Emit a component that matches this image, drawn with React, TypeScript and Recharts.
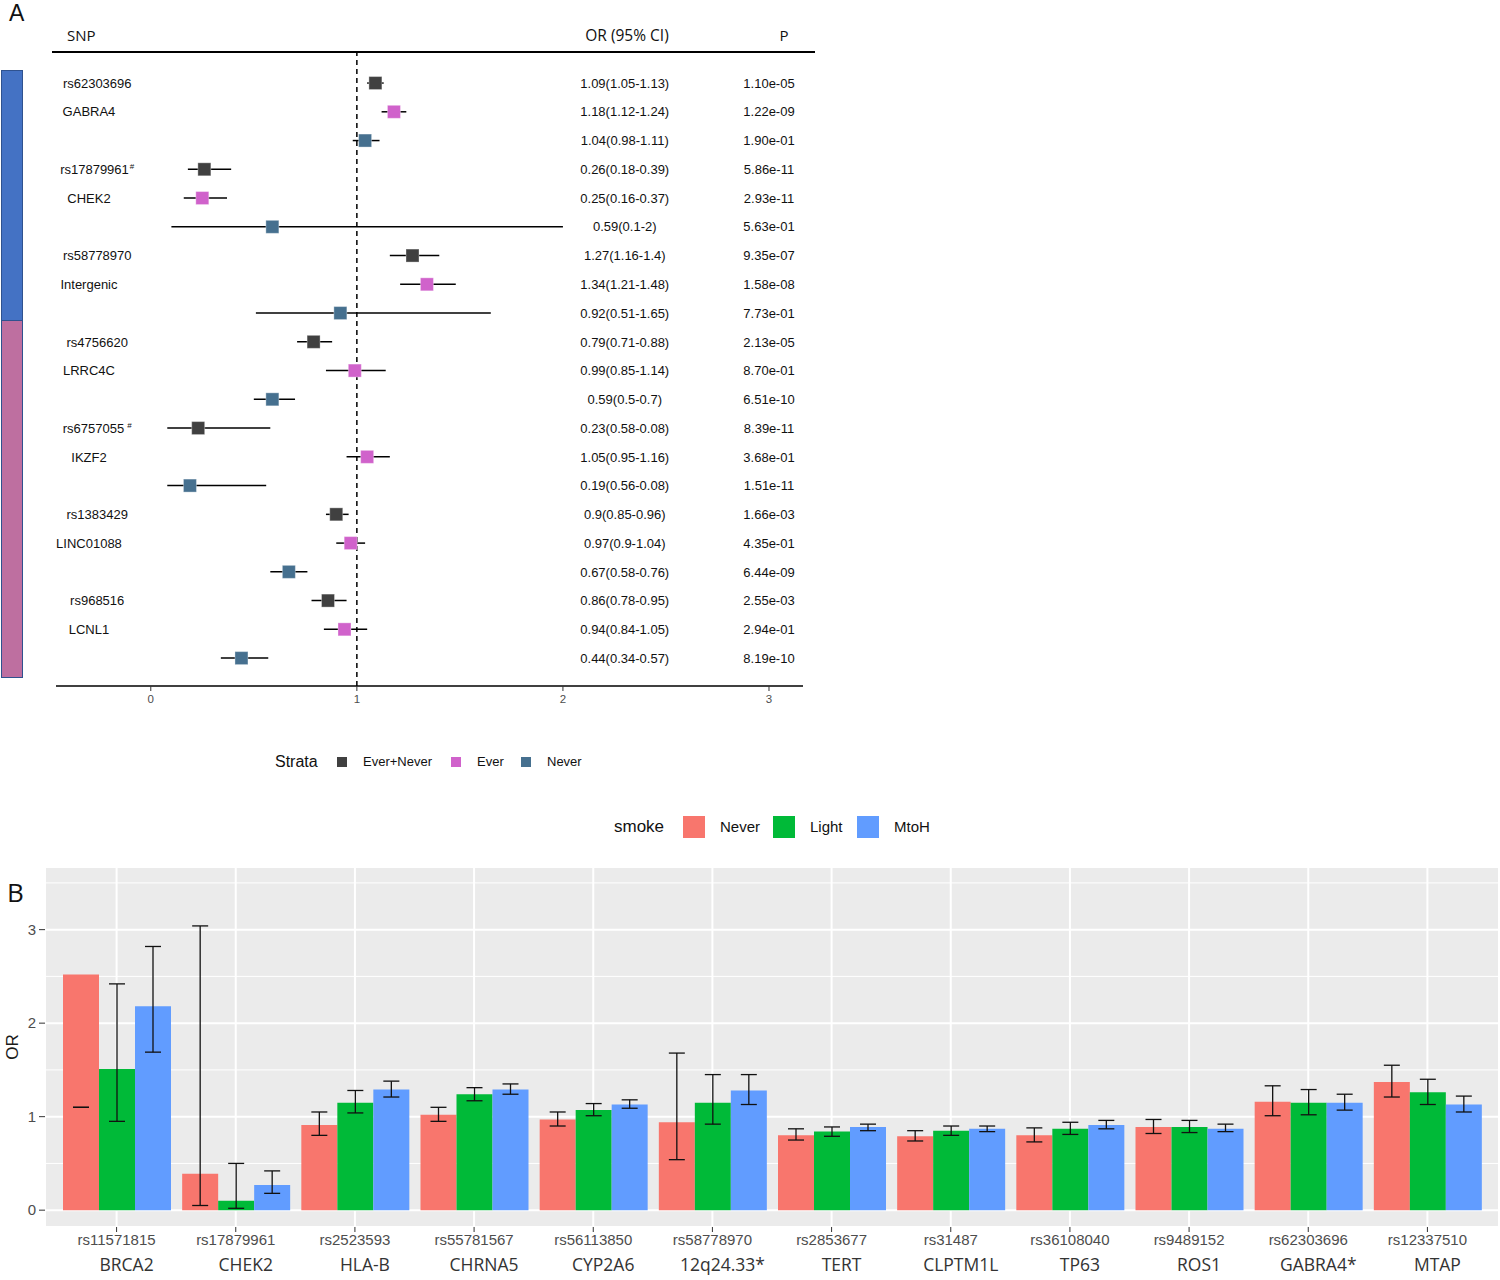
import React from "react";
import {
  ScatterChart,
  Scatter,
  XAxis,
  YAxis,
  ReferenceLine,
  ErrorBar,
  BarChart,
  Bar,
  CartesianGrid,
} from "recharts";

// ---------- panel A: forest plot ----------
const strata = ["Ever+Never", "Ever", "Never"];
const strataColors = ["#404040", "#D062CB", "#46708F"];

const snpIds = ["rs62303696", "rs17879961#", "rs58778970", "rs4756620", "rs6757055 #", "rs1383429", "rs968516"];
const snpGenes = ["GABRA4", "CHEK2", "Intergenic", "LRRC4C", "IKZF2", "LINC01088", "LCNL1"];

const forestOR = [1.09, 1.18, 1.04, 0.26, 0.25, 0.59, 1.27, 1.34, 0.92, 0.79, 0.99, 0.59, 0.23, 1.05, 0.19, 0.9, 0.97, 0.67, 0.86, 0.94, 0.44];
const forestLo = [1.05, 1.12, 0.98, 0.18, 0.16, 0.1, 1.16, 1.21, 0.51, 0.71, 0.85, 0.5, 0.08, 0.95, 0.08, 0.85, 0.9, 0.58, 0.78, 0.84, 0.34];
const forestHi = [1.13, 1.24, 1.11, 0.39, 0.37, 2, 1.4, 1.48, 1.65, 0.88, 1.14, 0.7, 0.58, 1.16, 0.56, 0.96, 1.04, 0.76, 0.95, 1.05, 0.57];
const forestCI = [
  "1.09(1.05-1.13)", "1.18(1.12-1.24)", "1.04(0.98-1.11)",
  "0.26(0.18-0.39)", "0.25(0.16-0.37)", "0.59(0.1-2)",
  "1.27(1.16-1.4)", "1.34(1.21-1.48)", "0.92(0.51-1.65)",
  "0.79(0.71-0.88)", "0.99(0.85-1.14)", "0.59(0.5-0.7)",
  "0.23(0.58-0.08)", "1.05(0.95-1.16)", "0.19(0.56-0.08)",
  "0.9(0.85-0.96)", "0.97(0.9-1.04)", "0.67(0.58-0.76)",
  "0.86(0.78-0.95)", "0.94(0.84-1.05)", "0.44(0.34-0.57)",
];
const forestP = [
  "1.10e-05", "1.22e-09", "1.90e-01", "5.86e-11", "2.93e-11", "5.63e-01", "9.35e-07",
  "1.58e-08", "7.73e-01", "2.13e-05", "8.70e-01", "6.51e-10", "8.39e-11", "3.68e-01",
  "1.51e-11", "1.66e-03", "4.35e-01", "6.44e-09", "2.55e-03", "2.94e-01", "8.19e-10",
];

// ---------- panel B: bar chart ----------
const smokeGroups = ["Never", "Light", "MtoH"];
const smokeColors = ["#F8766D", "#00BA38", "#619CFF"];

const barSnps = ["rs11571815", "rs17879961", "rs2523593", "rs55781567", "rs56113850", "rs58778970", "rs2853677", "rs31487", "rs36108040", "rs9489152", "rs62303696", "rs12337510"];
const barGenes = ["BRCA2", "CHEK2", "HLA-B", "CHRNA5", "CYP2A6", "12q24.33*", "TERT", "CLPTM1L", "TP63", "ROS1", "GABRA4*", "MTAP"];

const orNever = [2.52, 0.39, 0.91, 1.02, 0.97, 0.94, 0.8, 0.79, 0.8, 0.89, 1.16, 1.37];
const loNever = [1.1, 0.05, 0.8, 0.95, 0.9, 0.54, 0.75, 0.74, 0.73, 0.82, 1.01, 1.21];
const hiNever = [1.1, 3.04, 1.05, 1.1, 1.05, 1.68, 0.87, 0.85, 0.88, 0.97, 1.33, 1.55];
const orLight = [1.51, 0.1, 1.15, 1.24, 1.07, 1.15, 0.84, 0.85, 0.87, 0.89, 1.15, 1.26];
const loLight = [0.95, 0.02, 1.04, 1.17, 1.01, 0.92, 0.79, 0.8, 0.81, 0.83, 1.02, 1.13];
const hiLight = [2.42, 0.5, 1.28, 1.31, 1.14, 1.45, 0.89, 0.9, 0.94, 0.96, 1.29, 1.4];
const orMtoH = [2.18, 0.27, 1.29, 1.29, 1.13, 1.28, 0.89, 0.87, 0.91, 0.87, 1.15, 1.13];
const loMtoH = [1.69, 0.18, 1.21, 1.24, 1.09, 1.13, 0.85, 0.84, 0.87, 0.84, 1.07, 1.05];
const hiMtoH = [2.82, 0.42, 1.38, 1.35, 1.18, 1.45, 0.92, 0.9, 0.96, 0.92, 1.24, 1.22];

const SANS = "'Liberation Sans', Arial, sans-serif";
const HEAD = "'Open Sans', 'Noto Sans', sans-serif";

const forestRows = forestOR.map((or, i) => ({
  x: or,
  y: i + 1,
  err: [or - forestLo[i], forestHi[i] - or],
}));

const labelRows = [
  ...snpIds.map((s, i) => ({ x: -0.26, y: i * 3 + 1, label: s })),
  ...snpGenes.map((g, i) => ({ x: -0.3, y: i * 3 + 2, label: g })),
];
const ciRows = forestCI.map((c, i) => ({ x: 2.3, y: i + 1, label: c }));
const pRows = forestP.map((p, i) => ({ x: 3.0, y: i + 1, label: p }));

const barData = barSnps.map((snp, i) => ({
  snp,
  never: orNever[i],
  neverErr: [orNever[i] - loNever[i], hiNever[i] - orNever[i]],
  light: orLight[i],
  lightErr: [orLight[i] - loLight[i], hiLight[i] - orLight[i]],
  mtoh: orMtoH[i],
  mtohErr: [orMtoH[i] - loMtoH[i], hiMtoH[i] - orMtoH[i]],
}));
const barKeys = ["never", "light", "mtoh"];

// text drawn at a scatter point
const textShape = (size: number) => (p: any) => {
  const label: string = p.payload.label;
  const m = label.match(/^(.*?)(\s?)#$/);
  return (
    <text x={p.cx} y={p.cy} dy={size * 0.36} textAnchor="middle" fontSize={size} fontFamily={SANS} fill="#111">
      {m ? (
        <>
          {m[1]}
          <tspan fontSize={8} dx={m[2] ? 3 : 1} dy={-5}>#</tspan>
        </>
      ) : (
        label
      )}
    </text>
  );
};

const squareShape = (color: string) => (p: any) => (
  <rect x={p.cx - 6.5} y={p.cy - 6.5} width={13} height={13} fill={color} stroke="#ffffff" strokeOpacity={0.35} strokeWidth={1} />
);

const BarTick = (props: any) => {
  const { x, y, payload, index } = props;
  return (
    <g>
      <text x={x} y={y + 11} textAnchor="middle" fontSize={15} fontFamily={SANS} fill="#4D4D4D">
        {payload.value}
      </text>
      <text x={x + 10} y={y + 37} textAnchor="middle" fontSize={17.5} fontFamily={HEAD} fill="#333">
        {barGenes[index]}
      </text>
    </g>
  );
};

const Txt = ({ x, y, size, children, center, family, color }: any) => (
  <div
    style={{
      position: "absolute",
      left: x,
      top: y,
      transform: center ? "translate(-50%, -50%)" : "translateY(-50%)",
      fontSize: size,
      fontFamily: family || SANS,
      color: color || "#111",
      whiteSpace: "nowrap",
      lineHeight: 1.2,
    }}
  >
    {children}
  </div>
);

export default function App() {
  return (
    <div style={{ position: "absolute", left: 0, top: 0, width: 1500, height: 1280, background: "#fff", overflow: "hidden" }}>
      {/* panel A */}
      <div style={{ position: "absolute", left: 9, top: 0, fontSize: 23, lineHeight: "normal", fontFamily: SANS, color: "#111" }}>A</div>
      <Txt x={67} y={35} size={15} family={HEAD}>SNP</Txt>
      <Txt x={627} y={35} size={15.5} family={HEAD} center>OR (95% CI)</Txt>
      <Txt x={784} y={35} size={15} family={HEAD} center>P</Txt>
      <div style={{ position: "absolute", left: 52, top: 51, width: 763, height: 2, background: "#000" }} />
      <div style={{ position: "absolute", left: 1, top: 70, width: 20, height: 249, background: "#4472C4", border: "1.5px solid #2F528F" }} />
      <div style={{ position: "absolute", left: 1, top: 320, width: 20, height: 356, background: "#BE6FA0", border: "1.5px solid #2F528F" }} />

      <div style={{ position: "absolute", left: 0, top: 0 }}>
        <ScatterChart width={820} height={720} margin={{ top: 52, right: 17, bottom: 4, left: 56 }}>
          <XAxis
            type="number"
            dataKey="x"
            domain={[-0.46, 3.165]}
            ticks={[0, 1, 2, 3]}
            allowDataOverflow
            height={30}
            axisLine={{ stroke: "#000", strokeWidth: 1.5 }}
            tickLine={{ stroke: "#333" }}
            tickSize={5}
            tickMargin={4}
            tick={{ fontSize: 11.5, fill: "#4D4D4D", fontFamily: SANS }}
          />
          <YAxis type="number" dataKey="y" domain={[-0.08, 21.97]} reversed hide allowDataOverflow />
          <ReferenceLine x={1} stroke="#000" strokeWidth={1.5} strokeDasharray="5 4" />
          {strata.map((s, k) => (
            <Scatter
              key={s}
              name={s}
              data={forestRows.filter((_, i) => i % 3 === k)}
              shape={squareShape(strataColors[k])}
              isAnimationActive={false}
            >
              <ErrorBar dataKey="err" direction="x" width={0} stroke="#000" strokeWidth={1.5} />
            </Scatter>
          ))}
          <Scatter data={labelRows} shape={textShape(13)} isAnimationActive={false} />
          <Scatter data={ciRows} shape={textShape(13)} isAnimationActive={false} />
          <Scatter data={pRows} shape={textShape(13)} isAnimationActive={false} />
        </ScatterChart>
      </div>

      {/* strata legend */}
      <Txt x={275} y={762} size={16}>Strata</Txt>
      {strata.map((s, k) => {
        const left = [337, 451, 521][k];
        return (
          <React.Fragment key={s}>
            <div style={{ position: "absolute", left, top: 757, width: 10, height: 10, background: strataColors[k] }} />
            <Txt x={left + 26} y={762} size={13}>{s}</Txt>
          </React.Fragment>
        );
      })}

      {/* smoke legend */}
      <Txt x={614} y={827} size={17}>smoke</Txt>
      {smokeGroups.map((g, k) => {
        const left = [683, 773, 857][k];
        return (
          <React.Fragment key={g}>
            <div style={{ position: "absolute", left, top: 816, width: 22, height: 22, background: smokeColors[k] }} />
            <Txt x={left + 37} y={827} size={15}>{g}</Txt>
          </React.Fragment>
        );
      })}

      {/* panel B */}
      <div style={{ position: "absolute", left: 0, top: 860 }}>
        <BarChart
          width={1500}
          height={420}
          data={barData}
          margin={{ top: 7, right: 1, bottom: 3, left: 0 }}
          barCategoryGap={6}
          barGap={0}
        >
          <CartesianGrid fill="#EBEBEB" fillOpacity={1} stroke="#ffffff" strokeWidth={2} />
          <CartesianGrid horizontalValues={[0.5, 1.5, 2.5, 3.5]} vertical={false} stroke="#ffffff" strokeWidth={1} />
          <XAxis
            dataKey="snp"
            padding={{ left: 12, right: 12 }}
            height={50}
            axisLine={false}
            tickLine={{ stroke: "#333" }}
            tickSize={5}
            interval={0}
            tick={<BarTick />}
          />
          <YAxis
            type="number"
            domain={[-0.18, 3.67]}
            ticks={[0, 1, 2, 3]}
            allowDataOverflow
            width={45}
            axisLine={false}
            tickLine={{ stroke: "#333" }}
            tickSize={6}
            tickMargin={3}
            tick={{ fontSize: 15, fill: "#4D4D4D", fontFamily: SANS }}
          />
          {barKeys.map((key, k) => (
            <Bar key={key} dataKey={key} fill={smokeColors[k]} isAnimationActive={false}>
              <ErrorBar dataKey={key + "Err"} direction="y" width={8} stroke="#111" strokeWidth={1.3} />
            </Bar>
          ))}
        </BarChart>
      </div>
      <Txt x={7} y={893} size={26} family={HEAD}>B</Txt>
      <div
        style={{
          position: "absolute",
          left: 12,
          top: 1047,
          transform: "translate(-50%, -50%) rotate(-90deg)",
          fontSize: 17,
          fontFamily: SANS,
          color: "#1a1a1a",
          lineHeight: 1,
        }}
      >
        OR
      </div>
    </div>
  );
}
